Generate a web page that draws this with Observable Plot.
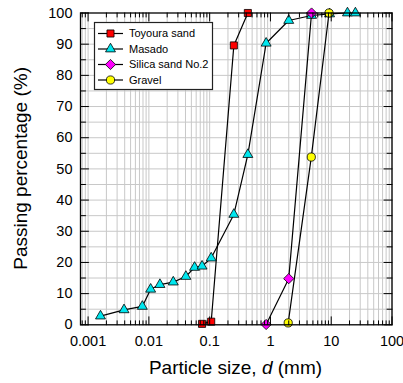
<!DOCTYPE html>
<html><head><meta charset="utf-8">
<script src="https://cdn.jsdelivr.net/npm/d3@7"></script>
<script src="https://cdn.jsdelivr.net/npm/@observablehq/plot@0.6"></script>
<style>
body{margin:0;background:#fff;}
#chart{position:relative;width:403px;height:383px;}
#legend{position:absolute;left:0;top:0;}
</style></head><body><div id="chart"></div>
<script>
// ---- data ----
const seriesNames = ["Toyoura sand", "Masado", "Silica sand No.2", "Gravel"];
const toyouraD = [0.075, 0.106, 0.25, 0.425];
const toyouraP = [0.3, 1.0, 89.6, 100];
const masadoD = [0.0016, 0.0039, 0.0078, 0.0107, 0.0152, 0.0252, 0.0406, 0.0565, 0.075, 0.106, 0.25, 0.425, 0.85, 2, 4.75, 9.4, 18.5, 25];
const masadoP = [2.8, 4.8, 5.9, 11.4, 12.9, 13.7, 15.5, 18.4, 18.8, 21.4, 35.4, 54.6, 90.3, 97.6, 99.2, 99.7, 100, 100];
const silicaD = [0.85, 2, 4.75];
const silicaP = [0.1, 14.8, 100];
const gravelD = [1.96, 4.7, 9.2];
const gravelP = [0.6, 53.8, 100];
const xTickValues = [0.001, 0.01, 0.1, 1, 10, 100];
const xTickLabels = ["0.001", "0.01", "0.1", "1", "10", "100"];
const yTickValues = [0, 10, 20, 30, 40, 50, 60, 70, 80, 90, 100];
const yMinorValues = [5, 15, 25, 35, 45, 55, 65, 75, 85, 95];

const colors = ["#ff0000", "#00e6ee", "#ff00ff", "#ffff00"];
const symbols = ["square", "triangle", "diamond2", "circle"];
const radii = [4.0, 3.7, 4.6, 4.1];
const d3Symbols = {square: d3.symbolSquare, triangle: d3.symbolTriangle, diamond2: d3.symbolDiamond2, circle: d3.symbolCircle};

const rows = (D, P, s) => D.map((d, i) => ({d, p: P[i], s}));
const series = [
  rows(toyouraD, toyouraP, 0),
  rows(masadoD, masadoP, 1),
  rows(silicaD, silicaP, 2),
  rows(gravelD, gravelP, 3)
];

const xDomain = [0.00075, 100];
const xMinor = [];
for (let e = -4; e <= 1; e++) for (let k = 2; k <= 9; k++) {
  const v = +(k * Math.pow(10, e)).toPrecision(6);
  if (v >= xDomain[0] && v <= xDomain[1]) xMinor.push(v);
}
const xGrid = xMinor.concat(xTickValues);

const tickShape = {draw(context, l) { context.moveTo(0, 0); context.lineTo(0, -l); }};
const ticks = (data, opts) => Plot.vector(data, {anchor: "start", shape: tickShape, stroke: "black", strokeWidth: 1, ...opts});

const marks = [
  Plot.ruleX(xGrid, {x: d => d, stroke: "#c8c8c8", strokeWidth: 1}),
  Plot.ruleY(yMinorValues.concat(yTickValues.slice(1, -1)), {y: d => d, stroke: "#c8c8c8", strokeWidth: 1}),
];
series.forEach((data) => {
  marks.push(Plot.line(data, {x: "d", y: "p", stroke: "black", strokeWidth: 1.2}));
});
series.forEach((data, i) => {
  marks.push(Plot.dot(data, {x: "d", y: "p", symbol: () => symbols[i], r: radii[i], fill: colors[i], stroke: "black", strokeWidth: 0.8}));
});
marks.push(
  ticks(xTickValues, {x: d => d, frameAnchor: "bottom", rotate: 0, length: 8}),
  ticks(xMinor, {x: d => d, frameAnchor: "bottom", rotate: 0, length: 4}),
  ticks(xTickValues, {x: d => d, frameAnchor: "top", rotate: 180, length: 8}),
  ticks(xMinor, {x: d => d, frameAnchor: "top", rotate: 180, length: 4}),
  ticks(yTickValues, {y: d => d, frameAnchor: "left", rotate: 90, length: 8}),
  ticks(yMinorValues, {y: d => d, frameAnchor: "left", rotate: 90, length: 5}),
  ticks(yTickValues, {y: d => d, frameAnchor: "right", rotate: -90, length: 8}),
  ticks(yMinorValues, {y: d => d, frameAnchor: "right", rotate: -90, length: 5}),
  Plot.frame({stroke: "black", strokeWidth: 1.3}),
  Plot.axisX(xTickValues, {tickSize: 0, tickPadding: 10.5, fontSize: 14.5, label: null,
    tickFormat: d => xTickLabels[xTickValues.indexOf(d)]}),
  Plot.axisY(yTickValues, {tickSize: 0, tickPadding: 8, fontSize: 14.5, label: null})
);

const font = "Liberation Sans, Arial, sans-serif";
const svgEl = Plot.plot({
  width: 403, height: 383,
  marginLeft: 80, marginRight: 11.5, marginTop: 12.5, marginBottom: 58.7,
  x: {type: "log", domain: xDomain},
  y: {domain: [0, 100]},
  style: {fontFamily: font, color: "black", background: "white"},
  marks
});
const chart = document.getElementById("chart");
chart.appendChild(svgEl);

const svg = d3.select(svgEl);
// axis titles
const xl = svg.append("text").attr("x", 235.5).attr("y", 374).attr("text-anchor", "middle")
  .attr("font-size", 19).attr("font-family", font).attr("fill", "black");
xl.append("tspan").text("Particle size, ");
xl.append("tspan").attr("font-style", "italic").text("d");
xl.append("tspan").text(" (mm)");
svg.append("text").attr("transform", "translate(27,168.4) rotate(-90)").attr("text-anchor", "middle")
  .attr("font-size", 19).attr("font-family", font).attr("fill", "black").text("Passing percentage (%)");

// legend (separate overlay svg)
const lg = d3.select(chart).append("svg").attr("id", "legend").attr("width", 403).attr("height", 383)
  .style("position", "absolute").style("left", "0px").style("top", "0px");
lg.append("rect").attr("x", 94.5).attr("y", 22.5).attr("width", 118).attr("height", 67)
  .attr("fill", "white").attr("stroke", "#222").attr("stroke-width", 1.2);
seriesNames.forEach((name, i) => {
  const cy = 33.5 + i * 15.5;
  lg.append("line").attr("x1", 98).attr("x2", 123).attr("y1", cy).attr("y2", cy)
    .attr("stroke", "black").attr("stroke-width", 1.2);
  lg.append("path").attr("transform", `translate(110.5,${cy})`)
    .attr("d", d3.symbol(d3Symbols[symbols[i]], Math.PI * radii[i] * radii[i])())
    .attr("fill", colors[i]).attr("stroke", "black").attr("stroke-width", 0.8);
  lg.append("text").attr("x", 129).attr("y", cy).attr("dy", "0.35em").attr("text-anchor", "start")
    .attr("font-size", 11).attr("font-family", font).attr("fill", "black").text(name);
});
</script>
</body></html>
